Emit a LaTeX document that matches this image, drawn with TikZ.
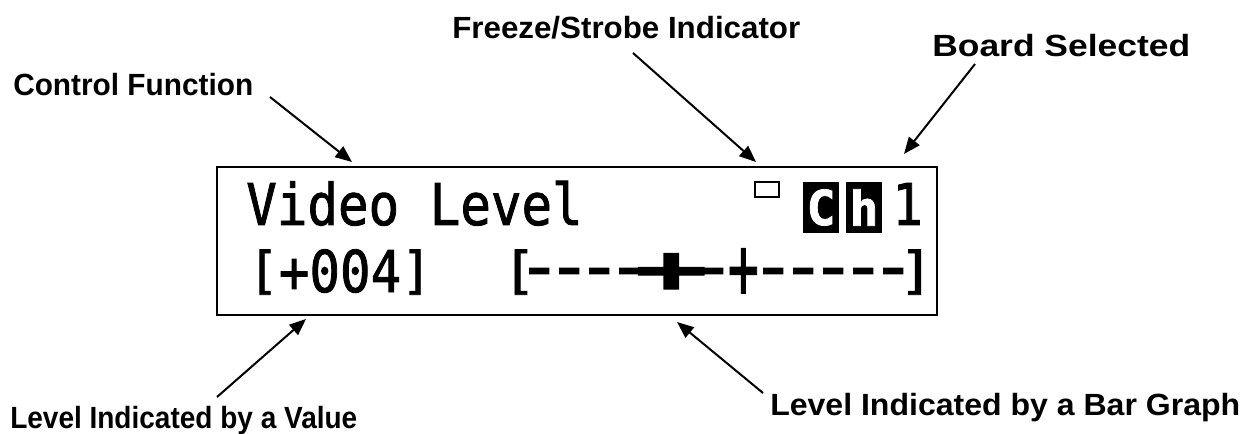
\documentclass[tikz,border=0pt]{standalone}
\usepackage{fontspec}
\setmainfont{Liberation Sans}
\newfontfamily\lcdfont{DejaVu Sans Mono}[FakeBold=1.5]
\usetikzlibrary{arrows.meta}
\newcommand\lcd[1]{\scalebox{0.882}[1]{#1}}
\newcommand\fitw[2]{\resizebox{#1}{\height}{#2}}
% glyph placed with its centre at a given offset from the start of the line
\newcommand\gl[2]{\rlap{\hspace*{#1}\makebox[0pt]{#2}}}
\newcommand\lbr{\raisebox{3pt}{\scalebox{1}[0.88]{[}}}
\newcommand\rbr{\raisebox{3pt}{\scalebox{1}[0.88]{]}}}
\newcommand\dsh{\raisebox{1pt}{\scalebox{1.3}[1.25]{-}}}
\newcommand\cursor{\scalebox{2.1}[1.15]{\bfseries +}}
\newcommand\centremark{\raisebox{-4.5pt}{\scalebox{0.9}[1.5]{+}}}
\begin{document}
\begin{tikzpicture}[x=0.75pt, y=-0.75pt,
  lab/.style={font=\bfseries\fontsize{23}{23}\selectfont, inner sep=0pt, anchor=base west},
  lcdtxt/.style={font=\lcdfont\fontsize{43.2}{43.2}\selectfont, inner sep=0pt, anchor=base west},
  invbox/.style={fill=black, text=white, minimum width=27pt, minimum height=38.25pt, inner sep=0pt,
                 font=\lcdfont\bfseries\fontsize{36}{36}\selectfont},
  pointer/.style={line width=1.5pt, -{Triangle[length=12.5pt,width=10pt]}}]
\useasboundingbox (0,0) rectangle (1251,434);
% display frame
\node[draw, line width=1.9pt, minimum width=540pt, minimum height=111pt, inner sep=0pt] (display) at (577,241) {};
% first line
\node[lcdtxt] (title) at (246,225) {\lcd{Video Level}};
\node[draw, line width=1.1pt, minimum width=18pt, minimum height=11.25pt, inner sep=0pt] (freeze) at (767,189.5) {};
\node[invbox] (chc) at (821,207.5) {C};
\node[invbox] (chh) at (864,207.5) {h};
\node[lcdtxt] (chnum) at (892,225) {\lcd{1}};
% second line
\node[lcdtxt] (value) at (248,292) {\lcd{\lbr+004\rbr}};
\node[lcdtxt] (bar) at (500,292) {\gl{14.25pt}{\lbr}\gl{29.25pt}{\dsh}\gl{51.75pt}{\dsh}\gl{74.25pt}{\dsh}\gl{96.75pt}{\dsh}%
  \gl{128.25pt}{\cursor}\gl{159.75pt}{\dsh}\gl{182.25pt}{\centremark}%
  \gl{204.75pt}{\dsh}\gl{227.25pt}{\dsh}\gl{249.75pt}{\dsh}\gl{272.25pt}{\dsh}\gl{294.75pt}{\dsh}\gl{312pt}{\rbr}\hspace*{318pt}};
% labels
\node[lab] (lcf) at (13,96) {\fitw{180pt}{Control Function}};
\node[lab] (lfr) at (452,39) {\fitw{261pt}{Freeze/Strobe Indicator}};
\node[lab] (lbd) at (932,57) {\fitw{193.5pt}{Board Selected}};
\node[lab] (lval) at (10,428) {\fitw{260.25pt}{Level Indicated by a Value}};
\node[lab] (lbar) at (770,415) {\fitw{352.5pt}{Level Indicated by a Bar Graph}};
% connector ends
\coordinate (cfA) at (270,97);  \coordinate (cfB) at (352,162);
\coordinate (frA) at (633,53);  \coordinate (frB) at (756,162);
\coordinate (bdA) at (975,64);  \coordinate (bdB) at (904,154);
\coordinate (vaA) at (217,397); \coordinate (vaB) at (306,319);
\coordinate (baA) at (763,393); \coordinate (baB) at (677,322);
\draw[pointer] (cfA) -- (cfB);
\draw[pointer] (frA) -- (frB);
\draw[pointer] (bdA) -- (bdB);
\draw[pointer] (vaA) -- (vaB);
\draw[pointer] (baA) -- (baB);
\end{tikzpicture}
\end{document}
